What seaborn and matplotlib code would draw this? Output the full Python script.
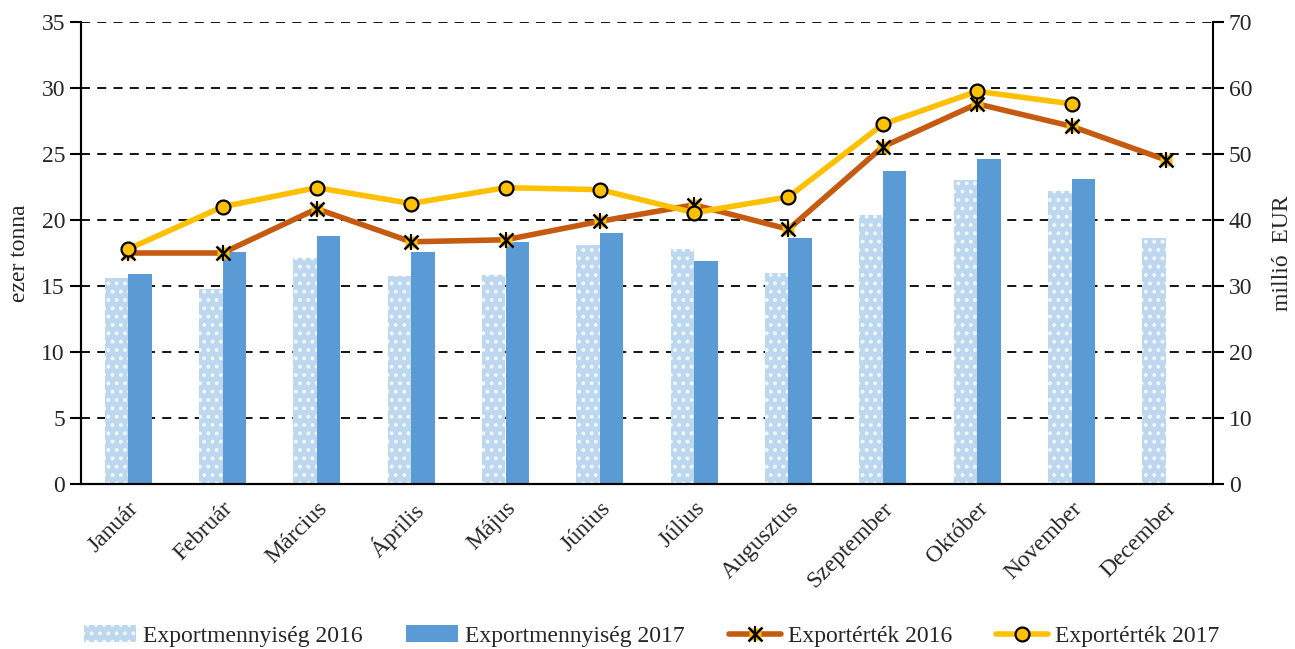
import numpy as np
import pandas as pd
import matplotlib
matplotlib.use("Agg")
import matplotlib.pyplot as plt
import seaborn as sns
from matplotlib.patches import Patch
from matplotlib.lines import Line2D
from matplotlib.legend_handler import HandlerTuple

months = ["Január", "Február", "Március", "Április", "Május", "Június",
          "Július", "Augusztus", "Szeptember", "Október", "November", "December"]
qty_2016 = [15.6, 14.8, 17.1, 15.75, 15.8, 18.1, 17.8, 16.0, 20.4, 23.0, 22.2, 18.6]
qty_2017 = [15.9, 17.6, 18.8, 17.6, 18.3, 19.0, 16.9, 18.6, 23.7, 24.6, 23.1, np.nan]
val_2016 = [35.0, 35.0, 41.7, 36.7, 37.0, 39.8, 42.3, 38.6, 51.1, 57.6, 54.2, 49.1]
val_2017 = [35.6, 42.0, 44.9, 42.5, 44.9, 44.6, 41.1, 43.5, 54.5, 59.5, 57.6, np.nan]

labels_qty = ["Exportmennyiség 2016", "Exportmennyiség 2017"]
labels_val = ["Exportérték 2016", "Exportérték 2017"]

sns.set_style("white")
plt.rcParams["font.family"] = ["Liberation Serif", "DejaVu Serif"]
plt.rcParams["hatch.linewidth"] = 1.6

c16_bar = "#BDD7EE"
c17_bar = "#5B9BD5"
c16_line = "#C55A11"
c17_line = "#FFC000"
FS = 17

fig = plt.figure(figsize=(12.95, 6.49), dpi=100)
ax = fig.add_axes([81/1295, 1-484/649, (1213-81)/1295, (484-22)/649])

df = pd.DataFrame({
    "month": months * 2,
    "qty": qty_2016 + qty_2017,
    "series": [labels_qty[0]] * 12 + [labels_qty[1]] * 12,
})
sns.barplot(data=df, x="month", y="qty", hue="series", order=months,
            hue_order=labels_qty, palette=[c16_bar, c17_bar], width=0.5,
            gap=0, ax=ax, legend=False, saturation=1, linewidth=0)
for p in ax.containers[0]:
    p.set_hatch("..")
    p.set_edgecolor("#F2F7FC")
    p.set_linewidth(0)

ax.set_ylim(0, 35)
ax.set_yticks(np.arange(0, 36, 5))
ax.set_xlim(-0.5, 11.5)
ax.grid(False)
for yv in np.arange(5, 36, 5):
    ax.axhline(yv, color="black", lw=1.3, ls=(0, (5, 4)), zorder=0.5)

ax2 = ax.twinx()
x = np.arange(len(months))
ldf = pd.DataFrame({"x": np.concatenate([x, x]),
                    "val": val_2016 + val_2017,
                    "series": [labels_val[0]] * 12 + [labels_val[1]] * 12})
sns.lineplot(data=ldf, x="x", y="val", hue="series", hue_order=labels_val,
             palette=[c16_line, c17_line], linewidth=4, ax=ax2, legend=False)
ax2.plot(x, val_2016, ls="none", marker="s", ms=9, mfc=c17_line, mec="none")
ax2.plot(x, val_2016, ls="none", marker="x", ms=10, mew=1.8, color="black")
ax2.plot(x, val_2016, ls="none", marker="|", ms=11, mew=1.5, color="black")
ax2.plot(x, val_2017, ls="none", marker="o", ms=10, mfc=c17_line, mec="black", mew=1.6)
ax2.set_ylim(0, 70)
ax2.set_yticks(np.arange(0, 71, 10))
ax2.set_xlim(-0.5, 11.5)
ax2.set_xlabel("")
ax2.set_ylabel("millió  EUR", fontsize=FS, labelpad=14)
ax2.grid(False)

# x ticks at category boundaries, labels at centres
ax.set_xticks(np.arange(-0.5, 12, 1))
ax.set_xticklabels([])
ax.set_xticks(x, minor=True)
ax.set_xticklabels(months, minor=True, rotation=45, ha="right",
                   rotation_mode="anchor", fontsize=FS)
ax.tick_params(axis="x", which="major", direction="out", length=8, width=1.5, color="black")
ax.tick_params(axis="x", which="minor", length=0, pad=10)
ax.tick_params(axis="y", direction="out", length=8, width=1.5, labelsize=FS, left=True, color="black")
ax2.tick_params(axis="y", direction="out", length=8, width=1.5, labelsize=FS, right=True, color="black")
ax.set_xlabel("")
ax.set_ylabel("ezer tonna", fontsize=FS, labelpad=8)

for a in (ax, ax2):
    a.spines["top"].set_visible(False)
    for s in ("left", "right", "bottom"):
        a.spines[s].set_color("black")
        a.spines[s].set_linewidth(1.5)
ax.spines["right"].set_visible(False)

h1 = Patch(facecolor=c16_bar, hatch="..", edgecolor="#F2F7FC", linewidth=0)
h2 = Patch(facecolor=c17_bar, edgecolor="none")
h3 = (Line2D([], [], color=c16_line, lw=4),
      Line2D([], [], ls="none", marker="s", ms=9, mfc=c17_line, mec="none"),
      Line2D([], [], ls="none", marker="x", ms=10, mew=1.8, color="black"),
      Line2D([], [], ls="none", marker="|", ms=11, mew=1.5, color="black"))
h4 = Line2D([], [], color=c17_line, lw=4, marker="o", ms=10, mfc=c17_line,
            mec="black", mew=1.6)
fig.legend([h1, h2, h3, h4], labels_qty + labels_val,
           handler_map={tuple: HandlerTuple(ndivide=1, pad=0)},
           loc="center", bbox_to_anchor=(0.503, 1-636/649), ncol=4,
           frameon=False, fontsize=FS, handlelength=2.2, handletextpad=0.3,
           columnspacing=1.85)

fig.savefig("out.png", dpi=100)
